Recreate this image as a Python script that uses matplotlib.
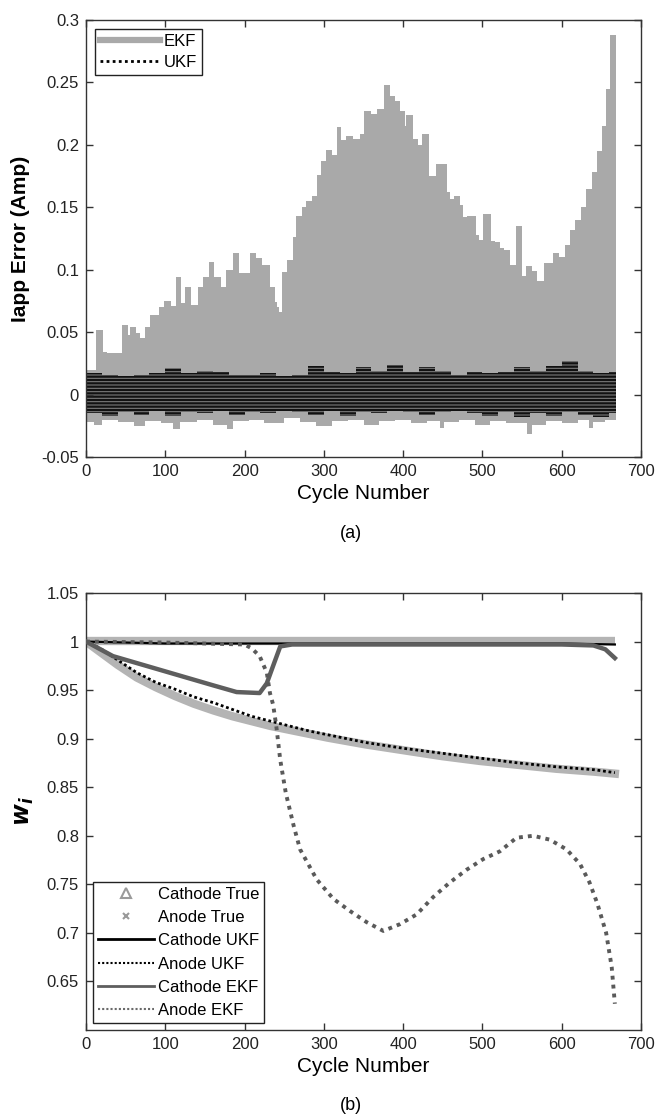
import matplotlib.pyplot as plt
from matplotlib.lines import Line2D

plt.rcParams['font.family'] = ['Liberation Sans', 'DejaVu Sans']
plt.rcParams['hatch.color'] = '#7a7a7a'
plt.rcParams['hatch.linewidth'] = 0.8

END_CYCLE = 669

# ---- (a) Iapp error: EKF envelope (step levels) ----
ekf_hi_start = [0, 13, 21, 26, 46, 53, 56, 63, 68, 74, 81, 92, 99, 107, 113, 120, 125,
                132, 141, 148, 155, 162, 170, 176, 185, 193, 207, 215, 222, 232, 238,
                241, 244, 247, 254, 261, 265, 272, 278, 285, 291, 297, 303, 310, 316,
                322, 328, 337, 345, 351, 359, 367, 376, 383, 390, 396, 402, 404, 412,
                419, 424, 432, 441, 455, 459, 464, 472, 475, 480, 492, 496, 501, 511,
                516, 522, 527, 535, 542, 550, 555, 562, 569, 578, 589, 597, 604, 610,
                617, 624, 631, 638, 645, 651, 656, 661]
ekf_hi = [0.020, 0.052, 0.034, 0.033, 0.056, 0.048, 0.054, 0.049, 0.045, 0.054, 0.064,
          0.070, 0.075, 0.071, 0.094, 0.073, 0.086, 0.072, 0.086, 0.094, 0.106, 0.094,
          0.086, 0.100, 0.113, 0.097, 0.113, 0.109, 0.104, 0.086, 0.074, 0.070, 0.066,
          0.098, 0.108, 0.126, 0.143, 0.150, 0.155, 0.159, 0.176, 0.187, 0.196, 0.192,
          0.214, 0.204, 0.207, 0.205, 0.209, 0.227, 0.225, 0.229, 0.248, 0.239, 0.235,
          0.227, 0.215, 0.224, 0.205, 0.200, 0.209, 0.175, 0.185, 0.162, 0.157, 0.159,
          0.152, 0.142, 0.143, 0.128, 0.124, 0.145, 0.123, 0.122, 0.117, 0.116, 0.104,
          0.135, 0.095, 0.103, 0.099, 0.091, 0.105, 0.113, 0.110, 0.120, 0.132, 0.140,
          0.150, 0.165, 0.178, 0.195, 0.215, 0.245, 0.288]

ekf_lo_start = [0, 10, 20, 40, 60, 75, 95, 110, 118, 140, 160, 178, 185, 205, 225, 250,
                270, 290, 310, 330, 350, 370, 390, 410, 430, 446, 452, 470, 490, 510,
                530, 556, 562, 580, 600, 620, 634, 640, 655]
ekf_lo = [-0.022, -0.024, -0.020, -0.022, -0.025, -0.021, -0.023, -0.028, -0.022, -0.020,
          -0.024, -0.028, -0.021, -0.020, -0.023, -0.019, -0.022, -0.025, -0.021, -0.020,
          -0.024, -0.021, -0.020, -0.023, -0.021, -0.027, -0.022, -0.020, -0.024, -0.021,
          -0.023, -0.032, -0.024, -0.021, -0.023, -0.020, -0.027, -0.022, -0.020]

# UKF error band, 20-cycle bins
ukf_start = [0, 20, 40, 60, 80, 100, 120, 140, 160, 180, 200, 220, 240, 260, 280, 300, 320,
             340, 360, 380, 400, 420, 440, 460, 480, 500, 520, 540, 560, 580, 600, 620,
             640, 660]
ukf_hi = [0.017, 0.016, 0.015, 0.016, 0.017, 0.021, 0.017, 0.019, 0.018, 0.016, 0.016,
          0.017, 0.015, 0.016, 0.023, 0.018, 0.017, 0.022, 0.019, 0.024, 0.018, 0.022,
          0.019, 0.016, 0.018, 0.017, 0.018, 0.022, 0.019, 0.023, 0.027, 0.019, 0.017,
          0.018]
ukf_lo = [-0.015, -0.017, -0.014, -0.016, -0.013, -0.017, -0.014, -0.015, -0.013, -0.016,
          -0.014, -0.015, -0.013, -0.014, -0.016, -0.013, -0.017, -0.014, -0.015, -0.013,
          -0.014, -0.016, -0.014, -0.013, -0.015, -0.017, -0.014, -0.018, -0.015, -0.017,
          -0.014, -0.016, -0.018, -0.015]

# ---- (b) w_i ----
anode_x = [0, 20, 40, 64, 88, 112, 136, 161, 185, 209, 233, 257, 281, 305, 353, 401, 449,
           497, 545, 593, 641, 667]
anode_true = [1.0, 0.988, 0.976, 0.963, 0.953, 0.944, 0.936, 0.929, 0.923, 0.918, 0.913,
              0.909, 0.905, 0.901, 0.894, 0.888, 0.882, 0.877, 0.873, 0.869, 0.866, 0.864]
anode_ukf = [1.0, 0.992, 0.981, 0.968, 0.958, 0.951, 0.943, 0.937, 0.930, 0.923, 0.918,
             0.913, 0.908, 0.904, 0.896, 0.890, 0.885, 0.880, 0.875, 0.871, 0.868, 0.865]

cath_true_x = [0, 667]
cath_true = [1.001, 1.001]

cath_ukf_x = [0, 100, 200, 245, 400, 600, 667]
cath_ukf = [1.0, 0.998, 0.998, 0.998, 0.998, 0.998, 0.997]

cath_ekf_x = [0, 34, 76, 118, 160, 190, 219, 228, 236, 245, 260, 400, 600, 640, 655, 667]
cath_ekf = [1.0, 0.985, 0.975, 0.965, 0.955, 0.948, 0.947, 0.957, 0.975, 0.995, 0.997,
            0.997, 0.997, 0.996, 0.992, 0.983]

anode_ekf_x = [0, 100, 200, 209, 219, 228, 232, 236, 240, 245, 252, 262, 270, 291, 312,
               333, 354, 375, 396, 417, 438, 459, 480, 501, 522, 543, 564, 585, 606, 623,
               635, 645, 656, 663, 667]
anode_ekf = [1.0, 0.999, 0.997, 0.993, 0.985, 0.968, 0.947, 0.935, 0.913, 0.878, 0.844,
             0.810, 0.786, 0.755, 0.735, 0.7225, 0.711, 0.702, 0.709, 0.719, 0.737, 0.752,
             0.765, 0.776, 0.784, 0.798, 0.800, 0.796, 0.786, 0.771, 0.752, 0.730, 0.700,
             0.665, 0.627]


def steps(starts, vals):
    return starts + [END_CYCLE], vals + [vals[-1]]


def style_axes(ax):
    for s in ax.spines.values():
        s.set_linewidth(1.0)
        s.set_color('#333333')
    ax.tick_params(direction='in', top=True, right=True, length=5, width=1,
                   labelsize=12, colors='#333333', labelcolor='#222222', pad=5)
    ax.set_xlim(0, 700)
    ax.set_xticks(range(0, 701, 100))


fig = plt.figure(figsize=(6.58, 11.17), dpi=100)
ax1 = fig.add_axes([0.1307, 0.5909, 0.8435, 0.3912])
ax2 = fig.add_axes([0.1307, 0.0779, 0.8435, 0.3912])

ekf_color = '#a9a9a9'
x, y = steps(ekf_hi_start, ekf_hi)
ax1.fill_between(x, 0, y, step='post', color=ekf_color, lw=0)
x, y = steps(ekf_lo_start, ekf_lo)
ax1.fill_between(x, y, 0, step='post', color=ekf_color, lw=0)
x, yh = steps(ukf_start, ukf_hi)
_, yl = steps(ukf_start, ukf_lo)
ax1.fill_between(x, yl, yh, step='post', facecolor='#111111', edgecolor='#7a7a7a',
                 hatch='-----', lw=0)

style_axes(ax1)
ax1.set_ylim(-0.05, 0.3)
ax1.set_yticks([-0.05, 0, 0.05, 0.1, 0.15, 0.2, 0.25, 0.3])
ax1.set_yticklabels(['-0.05', '0', '0.05', '0.1', '0.15', '0.2', '0.25', '0.3'])
ax1.set_xlabel('Cycle Number', fontsize=15, labelpad=4)
ax1.set_ylabel('Iapp Error (Amp)', fontsize=15, fontweight='bold', labelpad=8)
h1 = [Line2D([], [], color=ekf_color, lw=4.5),
      Line2D([], [], color='k', ls=(0, (1, 1.2)), lw=2)]
leg1 = ax1.legend(h1, ['EKF', 'UKF'], loc='upper left', fontsize=12, fancybox=False,
                  edgecolor='#222222', framealpha=1, handlelength=3.6, handletextpad=0.2,
                  borderpad=0.3, labelspacing=0.35, borderaxespad=0.55)
leg1.get_frame().set_linewidth(1.0)

# (b)
true_color = '#b4b4b4'
ax2.plot(cath_true_x, cath_true, color=true_color, lw=6, solid_capstyle='butt', zorder=2)
ax2.plot(anode_x, anode_true, color=true_color, lw=6, zorder=2)
ax2.plot(cath_ukf_x, cath_ukf, color='k', lw=1.6, zorder=3)
ax2.plot(anode_x, anode_ukf, color='k', ls=(0, (1, 1)), lw=2, zorder=3)
ax2.plot(cath_ekf_x, cath_ekf, color='#5e5e5e', lw=3.2, zorder=4)
ax2.plot(anode_ekf_x, anode_ekf, color='#5a5a5a', ls=(0, (1, 1.3)), lw=2.8, zorder=4)

style_axes(ax2)
ax2.set_ylim(0.6, 1.05)
ax2.set_yticks([0.65, 0.7, 0.75, 0.8, 0.85, 0.9, 0.95, 1.0, 1.05])
ax2.set_yticklabels(['0.65', '0.7', '0.75', '0.8', '0.85', '0.9', '0.95', '1', '1.05'])
ax2.set_xlabel('Cycle Number', fontsize=15, labelpad=4)
ax2.set_ylabel(r'$\mathbfit{w}_{\mathbfit{i}}$', fontsize=17, labelpad=8)
h2 = [Line2D([], [], color='#9a9a9a', marker='^', ls='none', ms=7, mfc='none', mew=1.5),
      Line2D([], [], color='#9a9a9a', marker='x', ls='none', ms=5, mew=1.5),
      Line2D([], [], color='k', lw=2),
      Line2D([], [], color='k', ls=(0, (1, 1)), lw=1.5),
      Line2D([], [], color='#5e5e5e', lw=2),
      Line2D([], [], color='#6a6a6a', ls=(0, (1, 1)), lw=1.5)]
labels2 = ['Cathode True', 'Anode True', 'Cathode UKF', 'Anode UKF', 'Cathode EKF',
           'Anode EKF']
leg2 = ax2.legend(h2, labels2, loc='lower left', fontsize=12, fancybox=False,
                  edgecolor='#222222', framealpha=1, handlelength=3.4, handletextpad=0.2,
                  borderpad=0.3, labelspacing=0.5, borderaxespad=0.4)
leg2.get_frame().set_linewidth(1.0)

fig.text(351 / 658, 1 - 534 / 1117, '(a)', fontsize=13, ha='center', va='center')
fig.text(351 / 658, 1 - 1105 / 1117, '(b)', fontsize=13, ha='center', va='center')

fig.savefig('out.png', dpi=100)
